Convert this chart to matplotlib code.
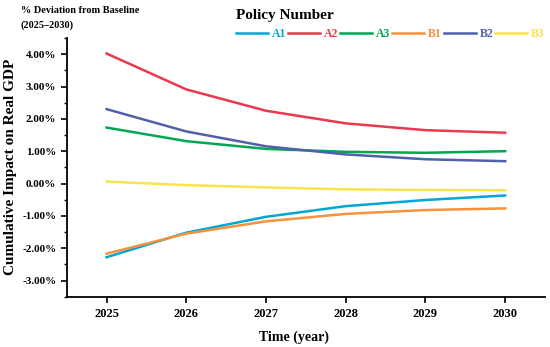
import matplotlib
matplotlib.use("Agg")
import matplotlib.pyplot as plt
from matplotlib.ticker import MultipleLocator, FuncFormatter

years = [2025, 2026, 2027, 2028, 2029, 2030]
series_names = ["A1", "A2", "A3", "B1", "B2", "B3"]
A1 = [-2.28, -1.52, -1.03, -0.70, -0.51, -0.37]
A2 = [4.02, 2.91, 2.25, 1.86, 1.65, 1.57]
A3 = [1.73, 1.31, 1.07, 0.98, 0.95, 1.00]
B1 = [-2.17, -1.55, -1.17, -0.94, -0.82, -0.77]
B2 = [2.30, 1.61, 1.15, 0.90, 0.75, 0.69]
B3 = [0.06, -0.05, -0.12, -0.18, -0.20, -0.21]
colors = ["#00A7D4", "#E8394F", "#00A651", "#F7913D", "#5160A8", "#FAE34C"]

plt.rcParams['font.family'] = ['Liberation Serif', 'DejaVu Serif']
plt.rcParams['font.weight'] = 'bold'

fig = plt.figure(figsize=(5.5, 3.47), dpi=100)
ax = fig.add_axes([0.1213, 0.145, 0.991 - 0.1213, 0.8905 - 0.145])

for name, vals, c in zip(series_names, [A1, A2, A3, B1, B2, B3], colors):
    ax.plot(years, vals, color=c, lw=1.8, label=name)

ax.set_xlim(2024.5, 2030.5)
ax.set_ylim(-3.5, 4.5)
ax.set_xticks(years)
ax.yaxis.set_major_locator(MultipleLocator(1))
ax.yaxis.set_minor_locator(MultipleLocator(0.5))
ax.yaxis.set_major_formatter(FuncFormatter(lambda v, p: f"{v:.2f}%"))
ax.spines['top'].set_visible(False)
ax.spines['right'].set_visible(False)
for s in ['left', 'bottom']:
    ax.spines[s].set_linewidth(1.3)
ax.tick_params(axis='both', which='major', width=1.2, length=4, direction='out')
ax.tick_params(axis='y', which='major', labelsize=8)
ax.tick_params(axis='x', which='major', labelsize=9, pad=4)
ax.tick_params(axis='y', which='minor', width=1.0, length=2.5)
for lab in ax.get_xticklabels() + ax.get_yticklabels():
    lab.set_fontweight('bold')

ax.set_xlabel("Time (year)", fontsize=10, fontweight='bold')
ax.xaxis.set_label_coords(0.476, -0.13)
ax.set_ylabel("Cumulative Impact on Real GDP", fontsize=11, fontweight='bold', labelpad=4)

fig.text(0.038, 0.971, "% Deviation from Baseline", fontsize=7.4, fontweight='bold', va='center', ha='left')
fig.text(0.038, 0.928, "(2025\u20132030)", fontsize=7.4, fontweight='bold', va='center', ha='left')

leg = fig.legend(loc='upper left', bbox_to_anchor=(0.422, 0.984), ncol=6, frameon=False,
                 title="Policy Number", title_fontproperties={'size': 11, 'weight': 'bold'},
                 prop={'size': 8.5, 'weight': 'bold'}, handlelength=2.7, handletextpad=0.35,
                 columnspacing=0.15, borderpad=0.3, borderaxespad=0)
for txt, c in zip(leg.get_texts(), colors):
    txt.set_color(c)
leg._legend_box.align = "left"

fig.savefig("out.png", dpi=100)
